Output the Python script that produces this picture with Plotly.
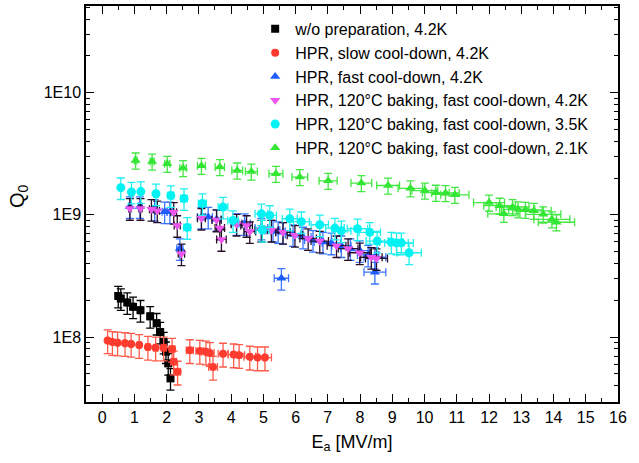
import plotly.graph_objects as go

# ---------------- data ----------------
wo_x = [0.50, 0.58, 0.78, 0.96, 1.19, 1.49, 1.69, 1.80, 1.91, 1.98, 2.05, 2.12]
wo_y = [2.17e8, 2.07e8, 1.92e8, 1.77e8, 1.66e8, 1.48e8, 1.30e8, 1.10e8, 9.1e7, 7.6e7, 6.1e7, 4.6e7]

slow_x = [0.17, 0.32, 0.48, 0.71, 0.90, 1.15, 1.42, 1.66, 1.91, 2.17, 2.22, 2.34,
          2.72, 3.03, 3.22, 3.34, 3.44, 3.75, 4.08, 4.25, 4.58, 4.82, 5.05]
slow_y = [9.4e7, 9.1e7, 9.0e7, 8.9e7, 8.8e7, 8.6e7, 8.3e7, 8.2e7, 8.2e7, 8.0e7, 6.3e7, 5.2e7,
          7.8e7, 7.7e7, 7.6e7, 7.4e7, 5.7e7, 7.3e7, 7.2e7, 7.1e7, 6.9e7, 6.8e7, 6.8e7]

fast_x = [0.86, 1.17, 1.63, 1.94, 2.10, 2.41, 3.08, 3.29, 3.55, 4.17, 4.42, 4.94, 5.30,
          5.46, 5.56, 5.61, 5.92, 6.23, 6.54, 6.85, 7.11, 7.42, 7.70, 7.99, 8.25, 8.46, 8.46]
fast_y = [1.17e9, 1.17e9, 1.11e9, 1.06e9, 1.06e9, 5.3e8, 9.6e8, 9.6e8, 9.2e8, 8.5e8, 8.5e8, 7.8e8, 7.5e8,
          7.3e8, 3.03e8, 7.2e8, 6.9e8, 6.6e8, 6.2e8, 6.0e8, 5.9e8, 5.6e8, 5.3e8, 5.1e8, 4.7e8, 4.5e8, 3.4e8]

bake42_x = [0.86, 1.19, 1.53, 1.71, 2.22, 2.33, 2.46, 3.08, 3.55, 3.65, 3.70, 4.17, 4.48, 4.58,
            4.94, 5.25, 5.61, 5.98, 6.39, 6.75, 7.27, 7.63, 7.99, 8.35, 8.51]
bake42_y = [1.13e9, 1.13e9, 1.11e9, 1.08e9, 1.05e9, 8.2e8, 4.8e8, 9.4e8, 9.1e8, 7.8e8, 6.3e8, 8.4e8, 8.2e8, 7.3e8,
            7.5e8, 7.5e8, 7.2e8, 6.8e8, 6.4e8, 6.1e8, 5.6e8, 5.3e8, 4.9e8, 4.5e8, 4.4e8]

bake35_x = [0.58, 0.91, 1.20, 1.67, 2.13, 2.54, 2.64, 3.11, 3.75, 4.06, 4.94, 4.97, 5.20,
            5.82, 6.18, 6.75, 7.22, 7.42, 7.92, 8.30, 8.53, 8.97, 9.13, 9.28, 9.52]
bake35_y = [1.67e9, 1.54e9, 1.55e9, 1.49e9, 1.44e9, 1.36e9, 7.9e8, 1.24e9, 1.16e9, 9.0e8, 1.02e9, 7.5e8, 9.9e8,
            9.3e8, 8.8e8, 8.3e8, 7.8e8, 7.4e8, 7.7e8, 7.2e8, 6.1e8, 6.0e8, 5.9e8, 5.9e8, 4.9e8]

bake21_x = [1.04, 1.55, 2.02, 2.51, 3.08, 3.65, 4.19, 4.63, 5.39, 6.13, 7.01, 8.04, 8.87, 9.56,
            10.01, 10.35, 10.65, 10.94, 12.00, 12.33, 12.46, 12.73, 12.90, 13.13, 13.39, 13.68, 13.95, 14.09]
bake21_y = [2.79e9, 2.73e9, 2.62e9, 2.42e9, 2.52e9, 2.46e9, 2.31e9, 2.26e9, 2.17e9, 2.04e9, 1.90e9, 1.82e9, 1.74e9, 1.65e9,
            1.58e9, 1.52e9, 1.51e9, 1.46e9, 1.26e9, 1.19e9, 1.02e9, 1.16e9, 1.11e9, 1.10e9, 1.08e9, 1.01e9, 9.2e8, 8.7e8]

rel_err_x = 0.04
rel_err_q = {"wo": 0.20, "slow": 0.22, "fast": 0.20, "b42": 0.20, "b35": 0.20, "b21": 0.15}

y_tick_vals = [1e8, 1e9, 1e10]
y_tick_text = ["1E8", "1E9", "1E10"]
y_minor_vals = [m * 10 ** e for e in (7, 8, 9, 10) for m in range(2, 10) if 3e7 <= m * 10 ** e <= 5e10]
x_tick_vals = list(range(0, 17))

FONT = "Liberation Sans, Arial, sans-serif"

series = [
    ("w/o preparation, 4.2K", wo_x, wo_y, "wo", "square", "#000000", "#000000", 8),
    ("HPR, slow cool-down, 4.2K", slow_x, slow_y, "slow", "circle", "#ff3b2f", "#ff5a4a", 8),
    ("HPR, fast cool-down, 4.2K", fast_x, fast_y, "fast", "triangle-up", "#1f5cff", "#3a74ff", 9),
    ("HPR, 120°C baking, fast cool-down, 4.2K", bake42_x, bake42_y, "b42", "triangle-down", "#ee55ee", "#2a0f2a", 9),
    ("HPR, 120°C baking, fast cool-down, 3.5K", bake35_x, bake35_y, "b35", "circle", "#00f2f2", "#22eeee", 9),
    ("HPR, 120°C baking, fast cool-down, 2.1K", bake21_x, bake21_y, "b21", "triangle-up", "#33e633", "#44e844", 9),
]

fig = go.Figure()
for name, xs, ys, key, sym, col, ecol, size in series:
    fig.add_trace(go.Scatter(
        x=xs, y=ys, mode="markers", name=name,
        marker=dict(symbol=sym, color=col, size=size, line=dict(width=0)),
        error_y=dict(type="data", array=[v * rel_err_q[key] for v in ys], color=ecol, thickness=1.3, width=4),
        error_x=dict(type="data", array=[v * rel_err_x for v in xs], color=ecol, thickness=1.3, width=4),
    ))

fig.update_layout(
    width=639, height=463,
    margin=dict(l=86, r=21, t=6, b=61, autoexpand=False),
    paper_bgcolor="white", plot_bgcolor="white",
    font=dict(family=FONT, size=16, color="#000000"),
    showlegend=True,
    legend=dict(x=0.318, y=0.985, xanchor="left", yanchor="top",
                bgcolor="rgba(0,0,0,0)", font=dict(size=16, family=FONT),
                itemsizing="trace", tracegroupgap=0),
    annotations=[dict(text="Q<sub>0</sub>", textangle=-90, xref="paper", yref="paper",
                      x=-0.128, y=0.52, xanchor="center", yanchor="middle", showarrow=False,
                      font=dict(size=20, family=FONT))],
)

fig.update_xaxes(
    range=[-0.5, 16], showline=True, linecolor="black", linewidth=1.5, mirror="ticks",
    showgrid=False, zeroline=False, automargin=False,
    tickmode="array", tickvals=x_tick_vals, ticks="inside", ticklen=8, tickwidth=1.2, tickcolor="black",
    minor=dict(dtick=0.5, tick0=0, ticks="inside", ticklen=4, tickwidth=1.2, tickcolor="black", showgrid=False),
    tickfont=dict(size=16, family=FONT),
    title=dict(text="E<sub>a</sub> [MV/m]", font=dict(size=18, family=FONT), standoff=10),
)
fig.update_yaxes(
    type="log", range=[7.469, 10.709], showline=True, linecolor="black", linewidth=1.5, mirror="ticks",
    showgrid=False, zeroline=False, automargin=False,
    tickmode="array", tickvals=y_tick_vals, ticktext=y_tick_text,
    ticks="inside", ticklen=8, tickwidth=1.2, tickcolor="black",
    minor=dict(tickmode="array", tickvals=y_minor_vals, ticks="inside", ticklen=4, tickwidth=1.2,
               tickcolor="black", showgrid=False),
    tickfont=dict(size=16, family=FONT),
)

fig.write_html("out.html", config={"displayModeBar": False},
               post_script="document.body.style.margin='0px';")
